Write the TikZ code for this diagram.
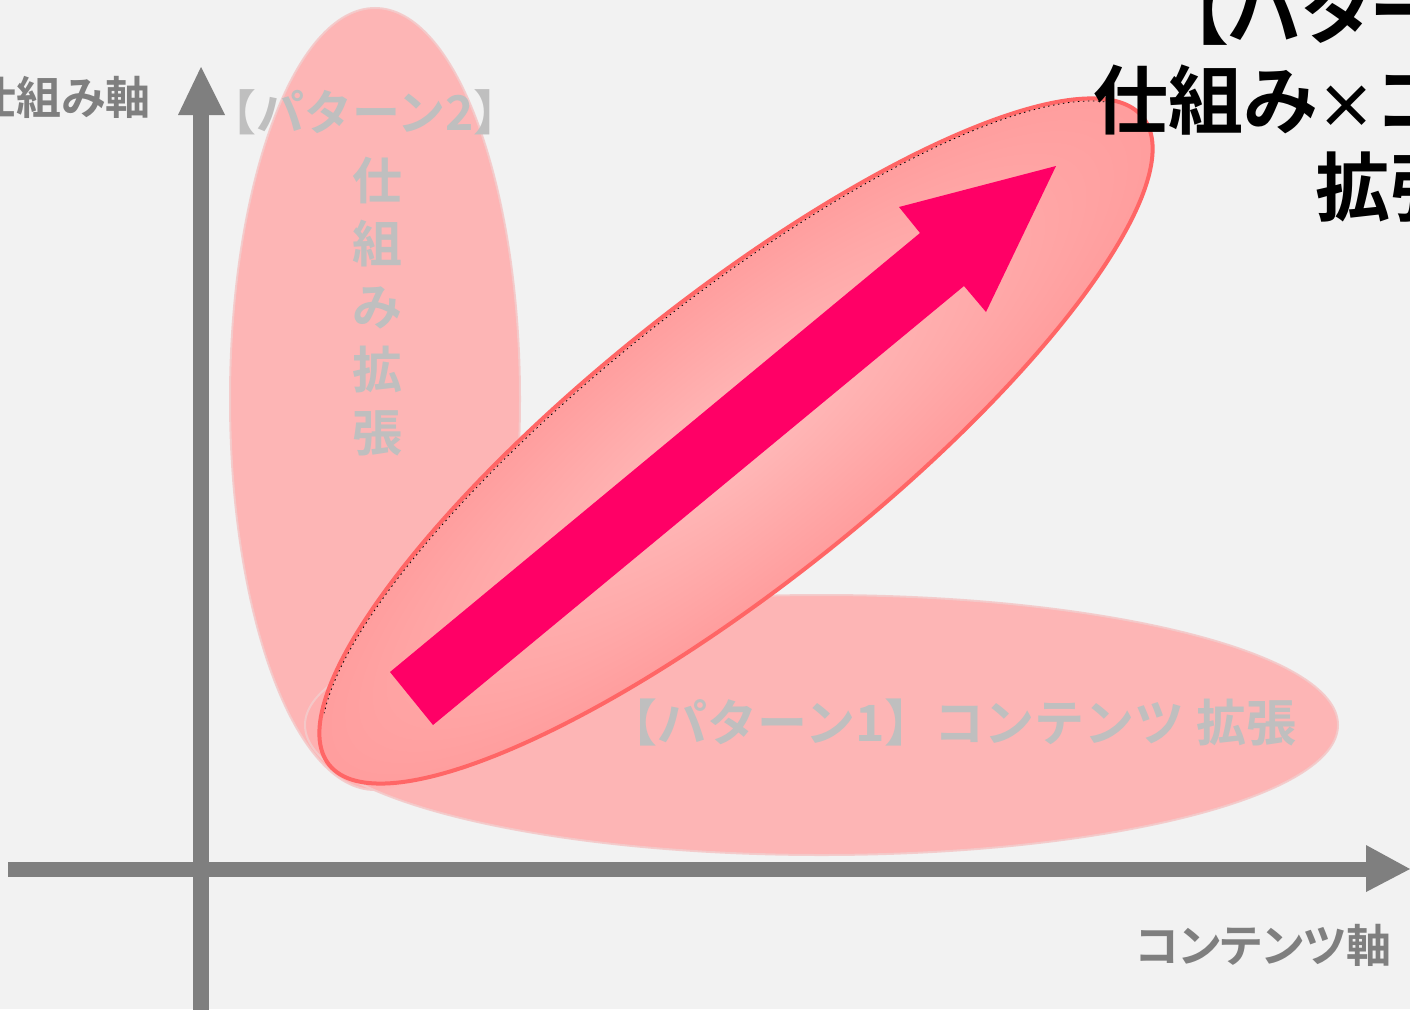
\documentclass[tikz,border=0pt]{standalone}
\usepackage{fontspec}
\newfontfamily\jp{Noto Sans CJK JP}[BoldFont={Noto Sans CJK JP Bold},RawFeature=+palt]
\newfontfamily\jpfw{Noto Sans CJK JP}[BoldFont={Noto Sans CJK JP Bold}]
\definecolor{bgcol}{HTML}{F2F2F2}
\definecolor{axisgray}{HTML}{7F7F7F}
\definecolor{patgray}{HTML}{BFBFBF}
\definecolor{pinkA}{HTML}{FFB0B0}
\definecolor{pinkB}{HTML}{FBC2C2}
\definecolor{pinkC}{HTML}{F6D6D6}
\definecolor{pinkline}{HTML}{F4CACA}
\definecolor{redA}{HTML}{FFBCBC}
\definecolor{redB}{HTML}{FF9A9A}
\definecolor{redC}{HTML}{FF7C7C}
\definecolor{redline}{HTML}{FF6666}
\definecolor{arrowcol}{HTML}{FF0066}
\pgfdeclareradialshading{softpink}{\pgfpoint{0bp}{0bp}}{color(0bp)=(pinkA); color(36bp)=(pinkA); color(46bp)=(pinkB); color(50bp)=(pinkC)}
\pgfdeclareradialshading{strongpink}{\pgfpoint{0bp}{0bp}}{color(0bp)=(redA); color(28bp)=(redB); color(50bp)=(redC)}
\tikzset{
  axislab/.style={text=axisgray, inner sep=0pt, font=\jp\bfseries\fontsize{45}{45}\selectfont},
  patlab/.style={text=patgray, inner sep=0pt, font=\jpfw\bfseries\fontsize{50}{63}\selectfont},
  titlelab/.style={text=black, inner sep=0pt, anchor=base west, font=\jp\bfseries\fontsize{75}{75}\selectfont},
  softell/.style={shading=softpink, draw=pinkline, line width=2pt, opacity=0.92},
}
\begin{document}
\begin{tikzpicture}[x=1pt,y=-1pt]
\useasboundingbox (0,0) rectangle (1410,1009);
\fill[bgcol] (0,0) rectangle (1410,1009);
\clip (0,0) rectangle (1410,1009);
% axes
\coordinate (ybot) at (201,1012);
\coordinate (ytop) at (201,110);
\coordinate (xl) at (8,869);
\coordinate (xr) at (1368,869);
\draw[axisgray, line width=16pt] (ybot) -- (ytop);
\fill[axisgray] (201,67) -- (225,115) -- (178,115) -- cycle;
\draw[axisgray, line width=15pt] (xl) -- (xr);
\fill[axisgray] (1410,869) -- (1366,892) -- (1366,845) -- cycle;
% pattern 2 and pattern 1 ellipses
\shade[softell] (375,399) ellipse[x radius=145, y radius=391];
\shade[softell] (821.5,725) ellipse[x radius=516.5, y radius=130];
% pattern 3 ellipse
\begin{scope}[transform canvas={shift={(736,441)},rotate=38.5}]
\shade[shading=strongpink, draw=redline, line width=4pt] (0,0) ellipse[x radius=520, y radius=143];
\draw[black, line width=0.8pt, dash pattern=on 1.5pt off 3.5pt] (-15:517 and 140) arc[start angle=-15, end angle=-162, x radius=517, y radius=140];
\end{scope}
% big arrow
\fill[arrowcol] (390,672) -- (920,233) -- (899,207) -- (1056,166) -- (986,312) -- (964,286) -- (433,725) -- cycle;
% labels
\node[axislab, anchor=east] (ylab) at (151,97) {仕組み軸};
\node[axislab, anchor=east] (xlab) at (1392,945) {コンテンツ軸};
\node[patlab, font=\jpfw\bfseries\fontsize{48}{48}\selectfont] (p2title) at (365,112) {【パターン2】};
\node[patlab, align=center] (p2body) at (377,307) {仕\\組\\み\\拡\\張};
\node[patlab] (p1title) at (952,722) {【パターン1】コンテンツ 拡張};
\node[titlelab] (t1) at (1190,38) {【パターン3】};
\node[titlelab] (t2) at (1093,128) {仕組み{\fontsize{60}{75}\selectfont ×}コンテンツ};
\node[titlelab] (t3) at (1315,215) {拡張};
\end{tikzpicture}
\end{document}
